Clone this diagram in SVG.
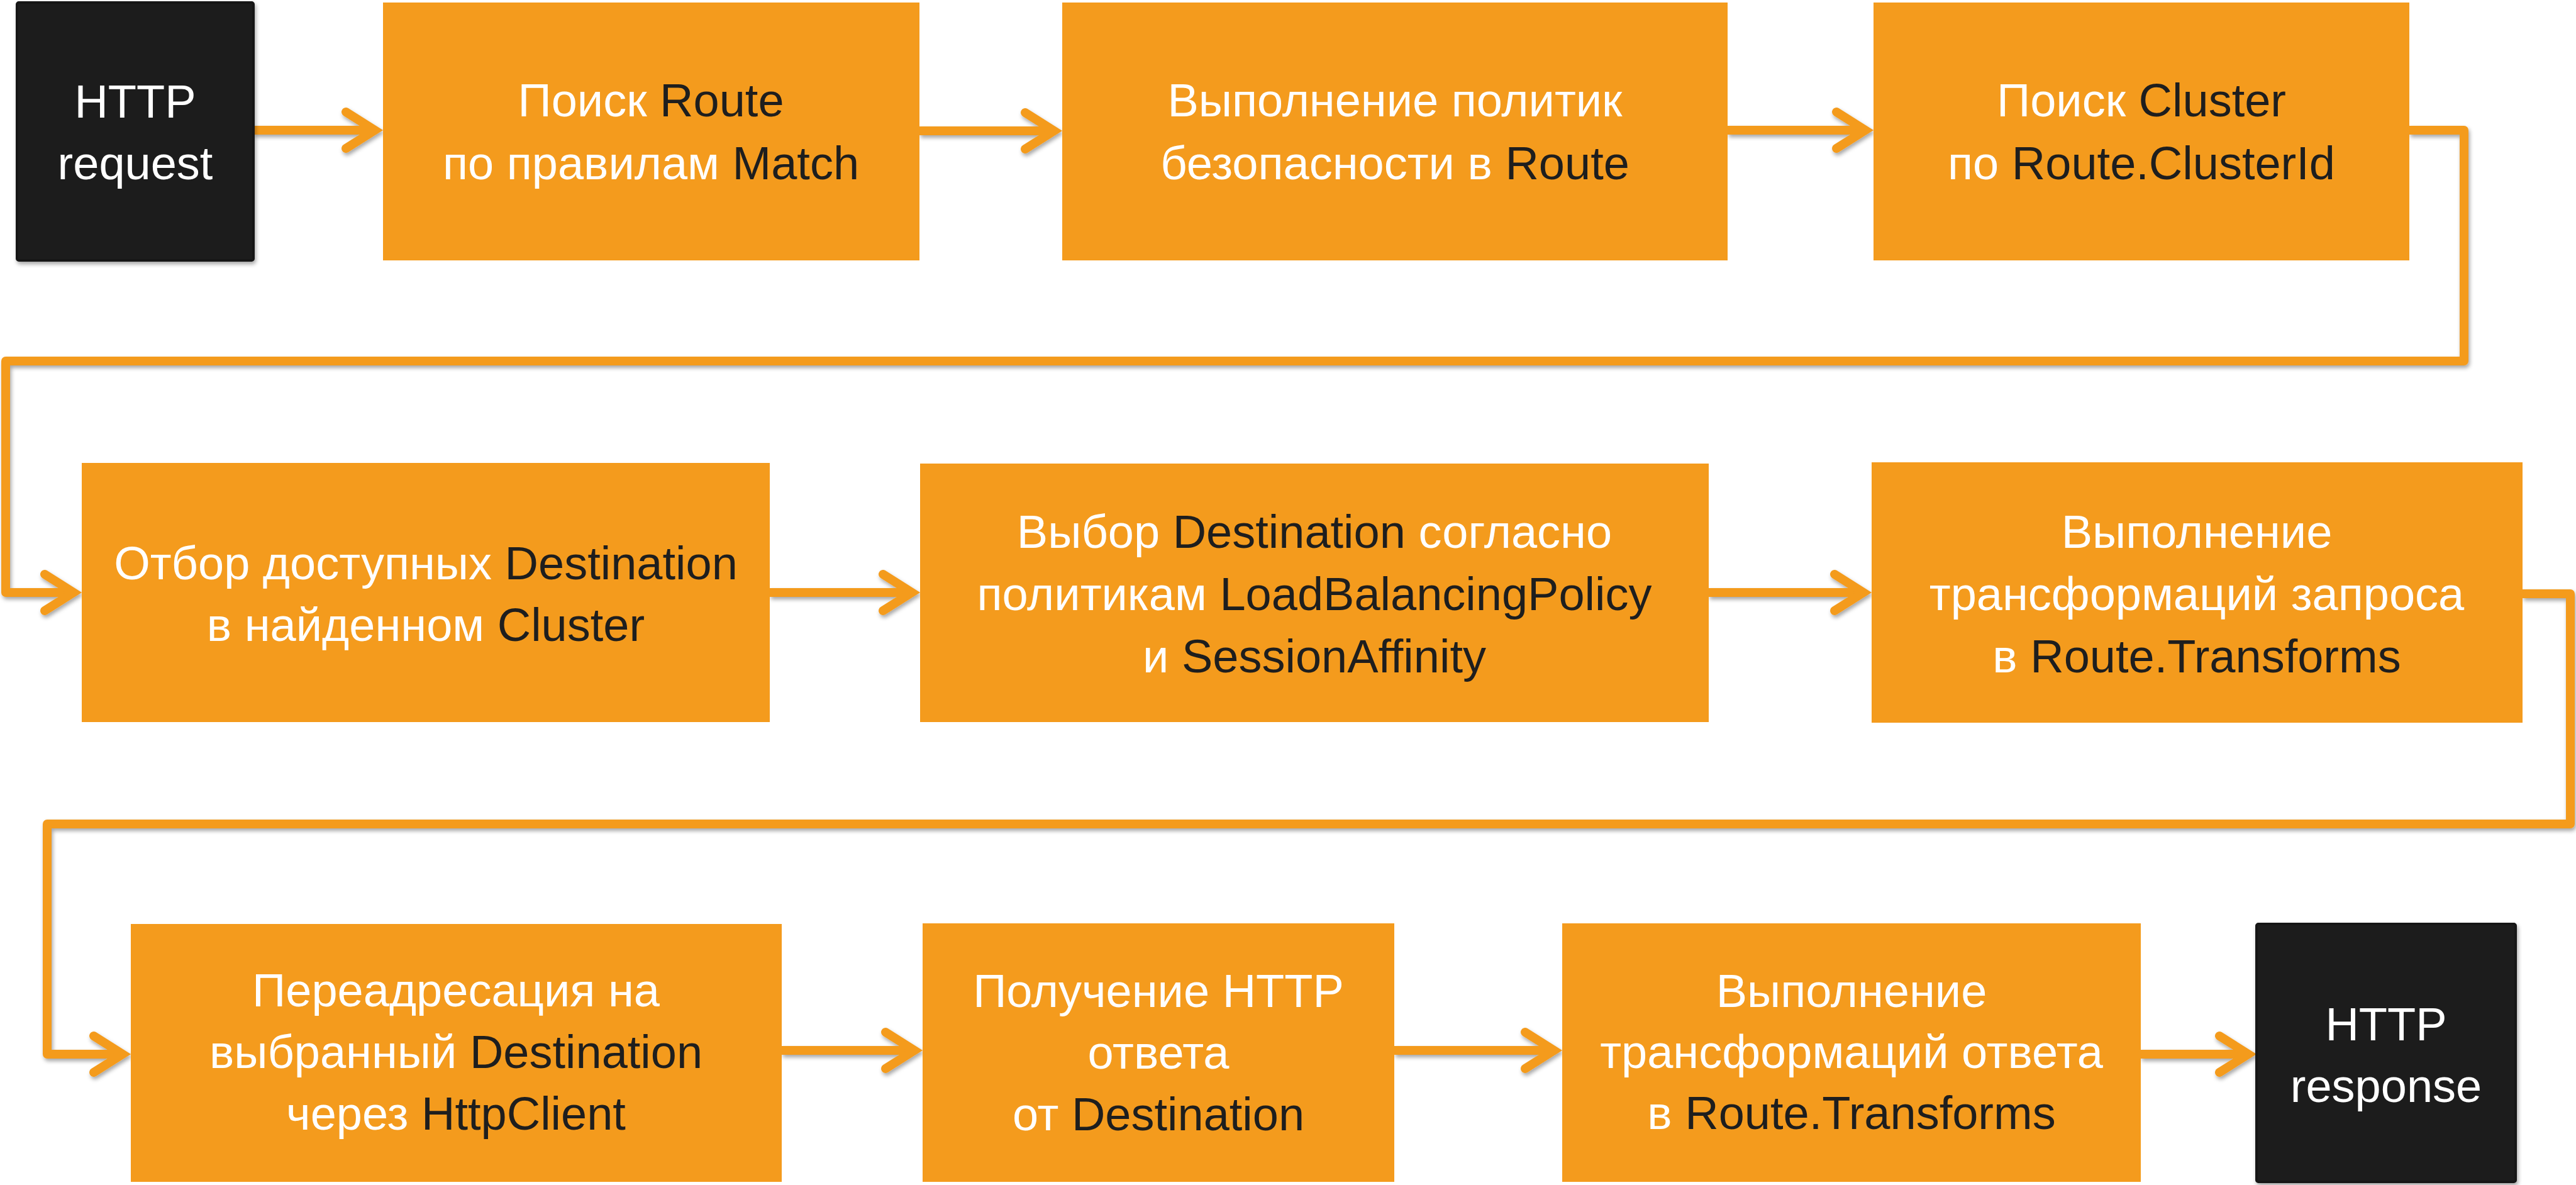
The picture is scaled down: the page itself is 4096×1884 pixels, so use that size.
<svg xmlns="http://www.w3.org/2000/svg" width="4096" height="1884" viewBox="0 0 4096 1884">
  <style>
    .box { fill: #F49B1D; }
    .term { fill: #1F1F1F; stroke: #121212; stroke-width: 4; }
    .lbl { font-family: "Liberation Sans", Arial, sans-serif; font-size: 74px; fill: #FFFFFF; text-anchor: middle; }
    .k { fill: #1E1E1E; }
    .wire { fill: none; stroke: #F49B1D; stroke-width: 14; stroke-linejoin: round; marker-end: url(#chev); }
  </style>
  <defs>
    <filter id="shade" x="-5%" y="-5%" width="110%" height="120%">
      <feDropShadow dx="2" dy="4" stdDeviation="3" flood-color="#000" flood-opacity="0.35"/>
    </filter>
    <marker id="chev" markerUnits="userSpaceOnUse" orient="auto" refX="0" refY="0" markerWidth="1" markerHeight="1" overflow="visible">
      <path d="M -46 -29 L 0 0 L -46 29" fill="none" stroke="#F49B1D" stroke-width="14" stroke-linecap="round" stroke-linejoin="miter" stroke-miterlimit="10"/>
    </marker>
  </defs>
  <rect width="4096" height="1884" fill="#FFFFFF"/>

  <!-- connectors -->
  <g id="connectors" filter="url(#shade)">
    <path class="wire" d="M 403 207 H 596"/>
    <path class="wire" d="M 1462 208 H 1676"/>
    <path class="wire" d="M 2747 207 H 2966"/>
    <path class="wire" d="M 3831 207 H 3918 V 574 H 9 V 942 H 117"/>
    <path class="wire" d="M 1224 942 H 1450"/>
    <path class="wire" d="M 2717 942 H 2963"/>
    <path class="wire" d="M 4011 944 H 4087 V 1310 H 75 V 1676 H 195"/>
    <path class="wire" d="M 1243 1670 H 1454"/>
    <path class="wire" d="M 2217 1670 H 2471"/>
    <path class="wire" d="M 3404 1676 H 3575"/>
  </g>

  <!-- row 1 -->
  <g id="http-request" filter="url(#shade)">
    <rect class="term" x="27" y="4" width="376" height="410" rx="3"/>
    <text class="lbl" x="215" y="187">HTTP</text>
    <text class="lbl" x="215" y="285">request</text>
  </g>
  <g id="find-route">
    <rect class="box" x="609" y="4" width="853" height="410"/>
    <text class="lbl" x="1035" y="185">Поиск <tspan class="k">Route</tspan></text>
    <text class="lbl" x="1035" y="285">по правилам <tspan class="k">Match</tspan></text>
  </g>
  <g id="security-policies">
    <rect class="box" x="1689" y="4" width="1058" height="410"/>
    <text class="lbl" x="2218" y="185">Выполнение политик</text>
    <text class="lbl" x="2218" y="285">безопасности в <tspan class="k">Route</tspan></text>
  </g>
  <g id="find-cluster">
    <rect class="box" x="2979" y="4" width="852" height="410"/>
    <text class="lbl" x="3405" y="185">Поиск <tspan class="k">Cluster</tspan></text>
    <text class="lbl" x="3405" y="285">по <tspan class="k">Route.ClusterId</tspan></text>
  </g>

  <!-- row 2 -->
  <g id="filter-destinations">
    <rect class="box" x="130" y="736" width="1094" height="412"/>
    <text class="lbl" x="677" y="921">Отбор доступных <tspan class="k">Destination</tspan></text>
    <text class="lbl" x="677" y="1019">в найденном <tspan class="k">Cluster</tspan></text>
  </g>
  <g id="choose-destination">
    <rect class="box" x="1463" y="737" width="1254" height="411"/>
    <text class="lbl" x="2090" y="871">Выбор <tspan class="k">Destination</tspan> согласно</text>
    <text class="lbl" x="2090" y="970">политикам <tspan class="k">LoadBalancingPolicy</tspan></text>
    <text class="lbl" x="2090" y="1069">и <tspan class="k">SessionAffinity</tspan></text>
  </g>
  <g id="request-transforms">
    <rect class="box" x="2976" y="735" width="1035" height="414"/>
    <text class="lbl" x="3493" y="871">Выполнение</text>
    <text class="lbl" x="3493" y="970">трансформаций запроса</text>
    <text class="lbl" x="3493" y="1069">в <tspan class="k">Route.Transforms</tspan></text>
  </g>

  <!-- row 3 -->
  <g id="forward-request">
    <rect class="box" x="208" y="1469" width="1035" height="410"/>
    <text class="lbl" x="725" y="1600">Переадресация на</text>
    <text class="lbl" x="725" y="1698">выбранный <tspan class="k">Destination</tspan></text>
    <text class="lbl" x="725" y="1796">через <tspan class="k">HttpClient</tspan></text>
  </g>
  <g id="receive-response">
    <rect class="box" x="1467" y="1468" width="750" height="411"/>
    <text class="lbl" x="1842" y="1601">Получение HTTP</text>
    <text class="lbl" x="1842" y="1699">ответа</text>
    <text class="lbl" x="1842" y="1797">от <tspan class="k">Destination</tspan></text>
  </g>
  <g id="response-transforms">
    <rect class="box" x="2484" y="1468" width="920" height="411"/>
    <text class="lbl" x="2944" y="1601">Выполнение</text>
    <text class="lbl" x="2944" y="1698">трансформаций ответа</text>
    <text class="lbl" x="2944" y="1795">в <tspan class="k">Route.Transforms</tspan></text>
  </g>
  <g id="http-response" filter="url(#shade)">
    <rect class="term" x="3588" y="1469" width="412" height="410" rx="3"/>
    <text class="lbl" x="3794" y="1654">HTTP</text>
    <text class="lbl" x="3794" y="1752">response</text>
  </g>
</svg>
